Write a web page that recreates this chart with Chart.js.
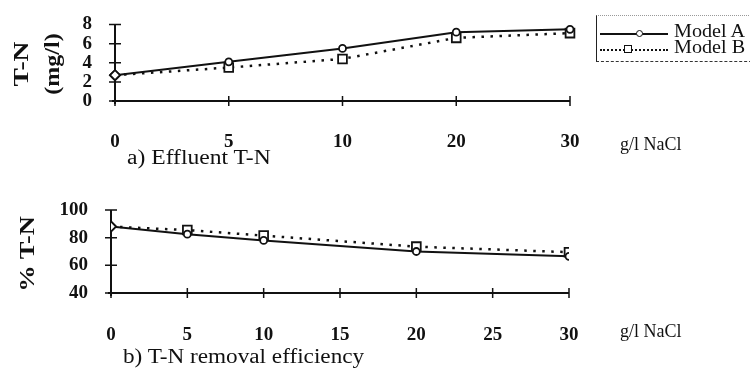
<!DOCTYPE html>
<html>
<head>
<meta charset="utf-8">
<script src="https://cdn.jsdelivr.net/npm/chart.js@4"></script>
<style>
  body { margin: 0; background: #fff; }
  #wrap { position: relative; width: 750px; height: 370px; font-family: "Liberation Serif", serif; color: #111; }
  canvas { position: absolute; left: 0; }
  .txt { position: absolute; white-space: nowrap; font-size: 20px; transform-origin: 0 50%; }
  .rot { position: absolute; white-space: nowrap; font-weight: bold; }
  #legend { position: absolute; left: 596px; top: 15px; width: 160px; height: 45px;
            border-left: 1.5px solid #222; border-top: 1px dotted #999; border-bottom: 1.5px dashed #333; }
  .item { position: absolute; left: 3px; height: 14px; width: 160px; font-size: 18px; }
  .sample { position: absolute; left: 0; top: 7px; width: 68px; }
  .mark { position: absolute; background: #fff; border: 1.5px solid #111; }
  .lab { position: absolute; left: 74px; top: -5px; transform: scaleX(1.12); transform-origin: 0 50%; }
</style>
</head>
<body>
<div id="wrap">
  <canvas id="chart_tn" width="750" height="175" style="top:0"></canvas>
  <canvas id="chart_eff" width="750" height="195" style="top:175px"></canvas>

  <div class="rot" style="left:21px; top:64px; font-size:22px; transform:translate(-50%,-50%) rotate(-90deg) scaleX(1.25);">T-N</div>
  <div class="rot" style="left:52px; top:64px; font-size:20px; transform:translate(-50%,-50%) rotate(-90deg) scaleX(1.2);">(mg/l)</div>
  <div class="rot" style="left:27px; top:254px; font-size:22px; transform:translate(-50%,-50%) rotate(-90deg) scaleX(1.2);">% T-N</div>

  <div class="txt" style="left:127px; top:146px; transform:scaleX(1.18);">a) Effluent T-N</div>
  <div class="txt" style="left:620px; top:134px; font-size:18px;">g/l NaCl</div>
  <div class="txt" style="left:123px; top:345px; transform:scaleX(1.16);">b) T-N removal efficiency</div>
  <div class="txt" style="left:620px; top:321px; font-size:18px;">g/l NaCl</div>

  <div id="legend">
    <div class="item" style="top:10px;">
      <div class="sample" style="border-top:2px solid #111;"></div>
      <div class="mark" style="left:36px; top:4px; width:5px; height:5px; border-radius:50%;"></div>
      <div class="lab">Model A</div>
    </div>
    <div class="item" style="top:26px;">
      <div class="sample" style="border-top:2.5px dotted #111;"></div>
      <div class="mark" style="left:24px; top:3px; width:6px; height:6px;"></div>
      <div class="lab">Model B</div>
    </div>
  </div>
</div>

<script>
// salt concentration (g/l NaCl)
const nacl = [0, 5, 10, 20, 30]
const nacl_labels = ['0', '5', '10', '20', '30']

// effluent T-N (mg/l)
const tn_model_a = [2.7, 4.1, 5.5, 7.2, 7.5]
const tn_model_b = [2.7, 3.5, 4.4, 6.6, 7.1]

// T-N removal efficiency (%)
const eff_model_a = [88, 82.5, 78, 70, 66.5]
const eff_model_b = [88, 85.5, 81.5, 73.5, 69.5]

const serif = "'Liberation Serif', serif"

// axes drawn as plain lines with ticks crossing them
const crossAxes = {
  id: 'crossAxes',
  beforeDatasetsDraw(chart) {
    const ctx = chart.ctx
    const area = chart.chartArea
    const xs = chart.scales.x
    const ys = chart.scales.y
    ctx.save()
    ctx.strokeStyle = '#111'
    ctx.lineWidth = 2
    ctx.beginPath()
    ctx.moveTo(area.left - 3, area.bottom)
    ctx.lineTo(area.right, area.bottom)
    ctx.moveTo(area.left, area.top)
    ctx.lineTo(area.left, area.bottom + 3)
    ctx.stroke()
    ctx.lineWidth = 1.5
    ctx.beginPath()
    xs.ticks.forEach((t, i) => {
      const px = xs.getPixelForTick(i)
      ctx.moveTo(px, area.bottom - 5)
      ctx.lineTo(px, area.bottom + 5)
    })
    ys.ticks.forEach((t, i) => {
      const py = ys.getPixelForTick(i)
      ctx.moveTo(area.left - 6, py)
      ctx.lineTo(area.left + 6, py)
    })
    ctx.stroke()
    ctx.restore()
  }
}

const lineA = (data) => ({
  label: 'Model A',
  data: data,
  borderColor: '#111',
  borderWidth: 2,
  backgroundColor: '#fff',
  pointBackgroundColor: '#fff',
  pointBorderColor: '#111',
  pointBorderWidth: 1.8,
  pointStyle: ['rectRot', 'circle', 'circle', 'circle', 'circle'],
  pointRadius: [5, 3.5, 3.5, 3.5, 3.5],
  tension: 0
})

const lineB = (data) => ({
  label: 'Model B',
  data: data,
  borderColor: '#111',
  borderWidth: 2.5,
  borderDash: [2.5, 6.5],
  backgroundColor: '#fff',
  pointBackgroundColor: '#fff',
  pointBorderColor: '#111',
  pointBorderWidth: 1.8,
  pointStyle: ['rectRot', 'rect', 'rect', 'rect', 'rect'],
  pointRadius: [5, 6.2, 6.2, 6.2, 6.2],
  tension: 0
})

const baseOptions = (padTop, padRight, yWidth, xHeight, xPad) => ({
  responsive: false,
  animation: false,
  layout: { padding: { top: padTop, right: padRight, left: 0, bottom: 0 } },
  plugins: { legend: { display: false }, tooltip: { enabled: false } },
  scales: {
    x: {
      border: { display: false },
      grid: { display: false },
      ticks: { color: '#111', padding: xPad, maxRotation: 0, autoSkip: false,
               font: { family: serif, size: 19, weight: 'bold' } },
      afterFit: s => { s.height = xHeight }
    },
    y: {
      border: { display: false },
      grid: { display: false },
      ticks: { color: '#111', padding: 15, autoSkip: false,
               font: { family: serif, size: 19, weight: 'bold', lineHeight: 1 } },
      afterFit: s => { s.width = yWidth }
    }
  }
})

// a) effluent T-N, salt levels evenly spaced
const opt_tn = baseOptions(20, 180, 115, 74, 22)
opt_tn.scales.x.type = 'category'
opt_tn.scales.x.offset = false
Object.assign(opt_tn.scales.y, { min: 0, max: 8 })
opt_tn.scales.y.ticks.stepSize = 2

new Chart(document.getElementById('chart_tn'), {
  type: 'line',
  data: { labels: nacl_labels, datasets: [lineA(tn_model_a), lineB(tn_model_b)] },
  options: opt_tn,
  plugins: [crossAxes]
})

// b) removal efficiency, salt on a linear axis
const opt_eff = baseOptions(35, 181, 111, 77, 23)
Object.assign(opt_eff.scales.x, { type: 'linear', min: 0, max: 30 })
opt_eff.scales.x.ticks.stepSize = 5
Object.assign(opt_eff.scales.y, { min: 40, max: 100 })
opt_eff.scales.y.ticks.stepSize = 20

new Chart(document.getElementById('chart_eff'), {
  type: 'line',
  data: {
    datasets: [
      lineA(nacl.map((v, i) => ({ x: v, y: eff_model_a[i] }))),
      lineB(nacl.map((v, i) => ({ x: v, y: eff_model_b[i] })))
    ]
  },
  options: opt_eff,
  plugins: [crossAxes]
})
</script>
</body>
</html>
